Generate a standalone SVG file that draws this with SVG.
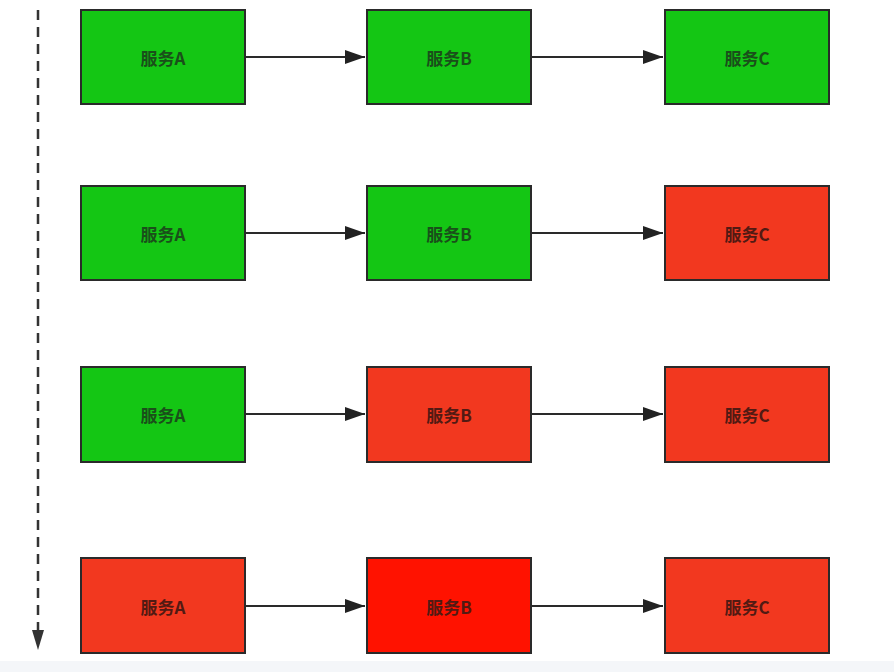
<svg xmlns="http://www.w3.org/2000/svg" width="894" height="672" viewBox="0 0 894 672">
<defs>
<marker id="ah2" markerWidth="22" markerHeight="14" refX="20" refY="7" orient="auto" markerUnits="userSpaceOnUse"><path d="M0,0 L20,7 L0,14 Z" fill="#222"/></marker>
<style>
.box{stroke:#2a2a2a;stroke-width:2}
.g{fill:#14c614}
.r{fill:#f2381f}
.rr{fill:#ff1200}
.lbl{font-family:"Noto Sans CJK SC","Liberation Sans",sans-serif;font-size:17px;font-weight:bold;text-anchor:middle;dominant-baseline:central}
.tg{fill:#1a4f1a}
.tr{fill:#521a13}
.conn{stroke:#2a2a2a;stroke-width:2;fill:none}
</style>
</defs>
<rect x="0" y="0" width="894" height="672" fill="#ffffff"/>
<rect x="0" y="661" width="894" height="11" fill="#f4f6f9"/>
<g id="timeline"><line x1="38" y1="10" x2="38" y2="632" stroke="#333" stroke-width="2.5" stroke-dasharray="10,7"/><path d="M32,630 L44,630 L38,650 Z" fill="#333"/></g>
<g id="connectors">
<line class="conn" x1="245" y1="57" x2="365" y2="57" marker-end="url(#ah2)"/>
<line class="conn" x1="531" y1="57" x2="663" y2="57" marker-end="url(#ah2)"/>
<line class="conn" x1="245" y1="233" x2="365" y2="233" marker-end="url(#ah2)"/>
<line class="conn" x1="531" y1="233" x2="663" y2="233" marker-end="url(#ah2)"/>
<line class="conn" x1="245" y1="414" x2="365" y2="414" marker-end="url(#ah2)"/>
<line class="conn" x1="531" y1="414" x2="663" y2="414" marker-end="url(#ah2)"/>
<line class="conn" x1="245" y1="606" x2="365" y2="606" marker-end="url(#ah2)"/>
<line class="conn" x1="531" y1="606" x2="663" y2="606" marker-end="url(#ah2)"/>
</g>
<g id="r1a"><rect class="box g" x="81" y="10" width="164" height="94"/><text class="lbl tg" x="163" y="57">服务A</text></g>
<g id="r1b"><rect class="box g" x="367" y="10" width="164" height="94"/><text class="lbl tg" x="449" y="57">服务B</text></g>
<g id="r1c"><rect class="box g" x="665" y="10" width="164" height="94"/><text class="lbl tg" x="747" y="57">服务C</text></g>
<g id="r2a"><rect class="box g" x="81" y="186" width="164" height="94"/><text class="lbl tg" x="163" y="233">服务A</text></g>
<g id="r2b"><rect class="box g" x="367" y="186" width="164" height="94"/><text class="lbl tg" x="449" y="233">服务B</text></g>
<g id="r2c"><rect class="box r" x="665" y="186" width="164" height="94"/><text class="lbl tr" x="747" y="233">服务C</text></g>
<g id="r3a"><rect class="box g" x="81" y="367" width="164" height="95"/><text class="lbl tg" x="163" y="414">服务A</text></g>
<g id="r3b"><rect class="box r" x="367" y="367" width="164" height="95"/><text class="lbl tr" x="449" y="414">服务B</text></g>
<g id="r3c"><rect class="box r" x="665" y="367" width="164" height="95"/><text class="lbl tr" x="747" y="414">服务C</text></g>
<g id="r4a"><rect class="box r" x="81" y="558" width="164" height="95"/><text class="lbl tr" x="163" y="606">服务A</text></g>
<g id="r4b"><rect class="box rr" x="367" y="558" width="164" height="95"/><text class="lbl tr" x="449" y="606">服务B</text></g>
<g id="r4c"><rect class="box r" x="665" y="558" width="164" height="95"/><text class="lbl tr" x="747" y="606">服务C</text></g>
</svg>
